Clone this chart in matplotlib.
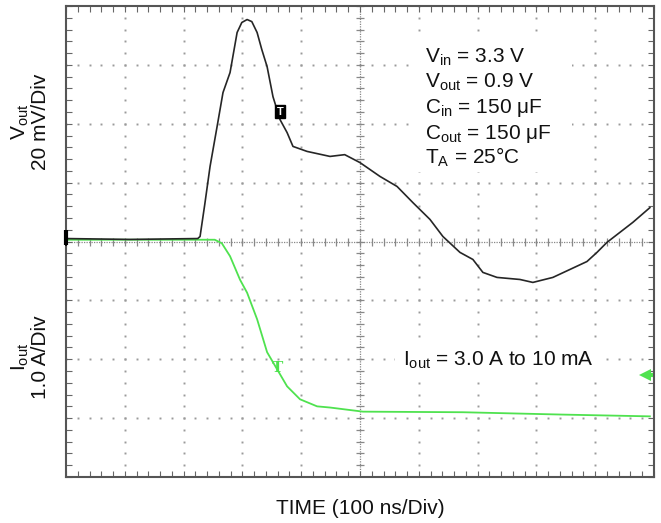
import numpy as np
import matplotlib
matplotlib.use("Agg")
import matplotlib.pyplot as plt
from matplotlib.patches import Rectangle

plt.rcParams['font.family'] = ['Liberation Sans', 'DejaVu Sans']
plt.rcParams['mathtext.default'] = 'regular'

# ---- data (scope units) ----
# Vout trace: time in ns, deviation in mV (20 mV/div, 0 at center line)
vout_t = [0, 109, 224, 228, 236, 245, 257, 267, 279, 291, 299, 308, 316, 325, 333,
          342, 352, 364, 376, 386, 410, 449, 474, 500, 534, 563, 590, 619, 641, 670,
          692, 709, 733, 772, 794, 828, 857, 886, 903, 920, 942, 964, 993]
vout_mv = [1.0, 0.7, 1.0, 1.7, 12.6, 25.5, 39.1, 50.6, 57.4, 71.0, 74.4, 75.4, 74.7, 71.0, 65.2,
           59.4, 49.2, 41.4, 37.0, 32.3, 30.6, 28.9, 29.5, 26.8, 22.1, 18.7, 13.2, 7.5, 1.7, -3.7,
           -6.1, -10.5, -12.2, -12.9, -13.9, -12.2, -9.5, -6.8, -3.7, -0.3, 3.1, 6.5, 11.5]
# Iout trace: time in ns, current in A (1 A/div, 3 A at center line)
iout_t = [0, 253, 265, 279, 296, 308, 325, 342, 359, 376, 398, 427, 449, 505, 675, 845, 993]
iout_a = [3.03, 3.03, 2.97, 2.75, 2.35, 2.13, 1.68, 1.12, 0.83, 0.54, 0.32, 0.20, 0.18,
          0.11, 0.10, 0.06, 0.03]

time_per_div = 100.0   # ns
mv_per_div = 20.0
a_per_div = 1.0
iout_center = 3.0

cond_lines = [r"V$_{in}$ = 3.3 V", r"V$_{out}$ = 0.9 V", r"C$_{in}$ = 150 μF",
              r"C$_{out}$ = 150 μF", r"T$_{A}$ = 25°C"]
iout_note = r"I$_{out}$ = 3.0 A to 10 mA"
ylabel_top = "V$_{out}$\n20 mV/Div"
ylabel_bot = "I$_{out}$\n1.0 A/Div"
xlabel = "TIME (100 ns/Div)"

W, H = 661, 523
def fp(x, y):
    return x / W, 1 - y / H

fig = plt.figure(figsize=(W / 100, H / 100), dpi=100)
L, R, T, B = 66, 654, 6, 477
ax = fig.add_axes([L / W, 1 - B / H, (R - L) / W, (B - T) / H])
ax.set_xlim(0, 10)
ax.set_ylim(-4, 4)

for s in ax.spines.values():
    s.set_color('#555555')
    s.set_linewidth(1.5)
ax.set_xticks(np.arange(0, 10.01, 0.2))
ax.set_yticks(np.arange(-4, 4.01, 0.2))
ax.set_xticklabels([])
ax.set_yticklabels([])
ax.tick_params(direction='in', length=4, width=0.8, color='#666666',
               top=True, right=True, bottom=True, left=True)

grid_c = '#9a9a9a'
minor = np.arange(0, 10.01, 0.2)
minor_y = np.arange(-4, 4.01, 0.2)
for i in range(1, 10):
    if i == 5:
        continue
    ax.plot(np.full_like(minor_y, i), minor_y, ls='none', marker='s', ms=1.4,
            color=grid_c, mew=0, zorder=1)
for j in range(-3, 4):
    if j == 0:
        continue
    ax.plot(minor, np.full_like(minor, j), ls='none', marker='s', ms=1.4,
            color=grid_c, mew=0, zorder=1)
# center axes with ticks
ax.axhline(0, color='#888888', lw=0.9, ls=(0, (1, 1)), zorder=1)
ax.axvline(5, color='#888888', lw=0.9, ls=(0, (1, 1)), zorder=1)
ax.plot(minor, np.zeros_like(minor), ls='none', marker='|', ms=6, mew=0.9,
        color='#888888', zorder=1)
ax.plot(np.full_like(minor_y, 5), minor_y, ls='none', marker='_', ms=6, mew=0.9,
        color='#888888', zorder=1)

# white boxes behind annotation texts
def px2d(x, y):
    return (x - L) / ((R - L) / 10), (242 - y) / ((B - T) / 8)
x0, y0 = px2d(410, 172)
x1, y1 = px2d(572, 38)
ax.add_patch(Rectangle((x0, y0), x1 - x0, y1 - y0, color='white', zorder=2, lw=0))
x0, y0 = px2d(395, 376)
x1, y1 = px2d(598, 344)
ax.add_patch(Rectangle((x0, y0), x1 - x0, y1 - y0, color='white', zorder=2, lw=0))

# traces
vx = np.array(vout_t) / time_per_div
vy = np.array(vout_mv) / mv_per_div
ix = np.array(iout_t) / time_per_div
iy = (np.array(iout_a) - iout_center) / a_per_div
green = '#4fe24f'
ax.plot(ix, iy, color=green, lw=1.3, zorder=3)
ax.plot(vx, vy, color='#262626', lw=1.2, zorder=4)

# trigger markers
mx, my = px2d(280, 112)
ax.text(mx, my, "T", color='white', fontsize=8, fontweight='bold', ha='center', va='center',
        bbox=dict(boxstyle='square,pad=0.15', fc='black', ec='black'), zorder=5)
mx, my = px2d(278, 368)
ax.text(mx, my, "T", color=green, fontsize=11, family='DejaVu Serif', fontweight='bold',
        ha='center', va='center', zorder=5)
# channel markers
gx, gy = px2d(66, 238)
ax.plot([gx, gx], [gy - 0.12, gy + 0.12], color='black', lw=3, clip_on=False,
        solid_capstyle='butt', zorder=6)
ax.plot([gx], [gy], marker='|', ms=12, mew=1.2, color='black', clip_on=False, zorder=6)
ax_, ay_ = px2d(645, 375)
bx_, by_ = px2d(653, 375)
ax.plot([ax_, bx_], [ay_, by_], color=green, lw=3, clip_on=False,
        solid_capstyle='butt', zorder=6)
ax.plot([ax_], [ay_], marker='<', ms=8, color=green, mew=0, clip_on=False, zorder=6)

# texts
baselines = [63, 88, 113, 139, 164]
for txt, yb in zip(cond_lines, baselines):
    fig.text(*fp(425, yb), txt, fontsize=15, ha='left', va='baseline', color='#111111')
fig.text(*fp(403, 366), iout_note, fontsize=15, ha='left', va='baseline', color='#111111')
fig.text(*fp(30, 122), ylabel_top, fontsize=15, rotation=90, ha='center', va='center',
         multialignment='center', color='#111111', linespacing=1.0)
fig.text(*fp(30, 357), ylabel_bot, fontsize=15, rotation=90, ha='center', va='center',
         multialignment='center', color='#111111', linespacing=1.0)
fig.text(*fp(360, 509), xlabel, fontsize=15, ha='center', va='center', color='#111111')

fig.savefig("out.png", dpi=100)
